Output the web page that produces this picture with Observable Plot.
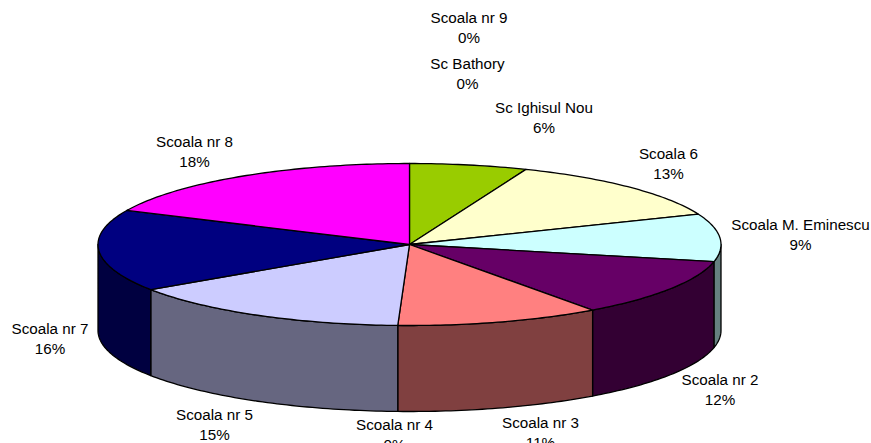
<!DOCTYPE html>
<html>
<head>
<meta charset="utf-8">
<script src="https://cdn.jsdelivr.net/npm/d3@7"></script>
<script src="https://cdn.jsdelivr.net/npm/@observablehq/plot@0.6"></script>
<style>
html,body{margin:0;padding:0;background:#fff;overflow:hidden}
svg{display:block}
</style>
</head>
<body>
<div id="chart"></div>
<script>
// Data, clockwise from 12 o'clock
const schools = ["Scoala nr 9","Sc Bathory","Sc Ighisul Nou","Scoala 6","Scoala M. Eminescu","Scoala nr 2","Scoala nr 3","Scoala nr 4","Scoala nr 5","Scoala nr 7","Scoala nr 8"];
const shares = [0,0,6.1,12.8,9.5,11.6,10.6,0,15.0,16.3,18.1];
const percentLabels = ["0%","0%","6%","13%","9%","12%","11%","0%","15%","16%","18%"];
const topColors = ["#3366ff","#808080","#99cc00","#ffffcc","#ccffff","#660066","#ff8080","#993366","#ccccff","#000080","#ff00ff"];
const sideColors = ["#1a3380","#404040","#4d6600","#808066","#668080","#330033","#804040","#4d1a33","#666680","#000040","#800080"];

// Layout of the tilted disc and of the labels
const W = 871, H = 443;
const cx = 409, cy = 244, rx = 311.5, ry = 81, depth = 86;
const labelX = [468.5,467,543.5,668,800,719.5,540,394,214,49.5,194];
const labelY = [26.5,72,116.5,162,233,388.5,431.5,433.5,423.5,337,150.5];

const rad = d => d * Math.PI / 180;
const px = a => cx + rx * Math.sin(rad(a));
const py = (a, dz = 0) => cy - ry * Math.cos(rad(a)) + dz;
function arc(a0, a1) {
  const n = Math.max(1, Math.ceil(Math.abs(a1 - a0)));
  return d3.range(n + 1).map(i => a0 + (a1 - a0) * i / n);
}

const total = d3.sum(shares);
let acc = 0;
const slices = schools.map((name, i) => {
  const a0 = acc / total * 360;
  acc += shares[i];
  return {name, a0, a1: acc / total * 360, top: topColors[i], side: sideColors[i]};
});

const sidePoints = [];
const topPoints = [];
slices.forEach(s => {
  if (s.a1 <= s.a0) return;
  const b0 = Math.max(s.a0, 90), b1 = Math.min(s.a1, 270);
  if (b1 > b0) {
    const pts = [
      ...arc(b0, b1).map(a => ({x: px(a), y: py(a)})),
      ...arc(b1, b0).map(a => ({x: px(a), y: py(a, depth)}))
    ];
    pts.push(pts[0]);
    pts.forEach(p => sidePoints.push({...p, name: s.name, color: s.side}));
  }
  const pts = [{x: cx, y: cy}, ...arc(s.a0, s.a1).map(a => ({x: px(a), y: py(a)})), {x: cx, y: cy}];
  pts.forEach(p => topPoints.push({...p, name: s.name, color: s.top}));
});

const labels = schools.map((name, i) => ({
  text: name + "\n" + percentLabels[i], x: labelX[i], y: labelY[i]
}));

const chart = Plot.plot({
  width: W, height: H,
  margin: 0,
  x: {domain: [0, W], range: [0, W], axis: null},
  y: {domain: [0, H], range: [0, H], axis: null},
  color: {type: "identity"},
  style: {background: "#fff", overflow: "hidden"},
  marks: [
    Plot.line(sidePoints, {x: "x", y: "y", z: "name", fill: "color", stroke: "#000", strokeWidth: 1.3, strokeLinejoin: "round", curve: "linear"}),
    Plot.line(topPoints, {x: "x", y: "y", z: "name", fill: "color", stroke: "#000", strokeWidth: 1.3, strokeLinejoin: "round", curve: "linear"}),
    Plot.text(labels, {x: "x", y: "y", text: "text", fill: "#000", fontSize: 15.2, lineHeight: 1.3, fontFamily: "Liberation Sans, Arial, sans-serif", textAnchor: "middle"})
  ]
});
document.getElementById("chart").appendChild(chart);
</script>
</body>
</html>
